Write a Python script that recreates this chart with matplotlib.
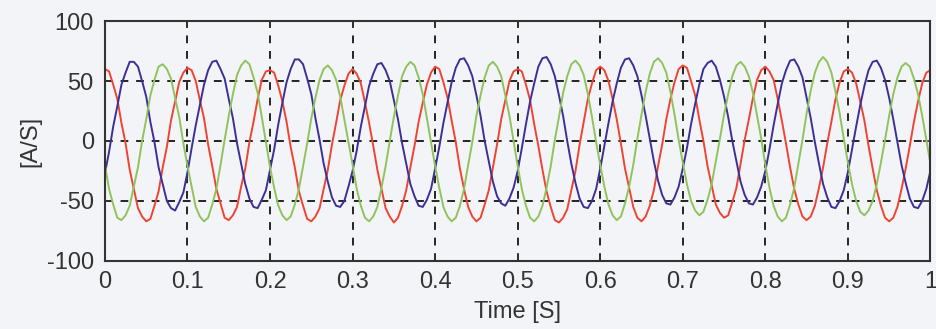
import numpy as np
import matplotlib
matplotlib.use("Agg")
import matplotlib.pyplot as plt

# sample times, 5 ms step over 1 s
time = np.linspace(0, 1, 201)

# phase a (red), one row per 0.1 s cycle
phase_a = [
    60, 58, 47, 35, 15, -2, -24, -40, -56, -63, -67, -65, -54, -42, -22, -5, 17, 33, 49, 57,
    61, 59, 50, 34, 19, -3, -21, -40, -52, -64, -66, -62, -55, -38, -23, -1, 16, 35, 51, 58,
    59, 57, 46, 33, 16, -5, -22, -42, -54, -65, -67, -63, -56, -40, -24, -3, 15, 34, 46, 56,
    60, 56, 48, 32, 15, -4, -24, -40, -56, -63, -68, -64, -54, -41, -22, -4, 16, 32, 47, 57,
    62, 60, 49, 36, 17, -1, -23, -40, -55, -63, -67, -64, -53, -41, -22, -3, 18, 34, 50, 58,
    60, 58, 47, 34, 14, -4, -24, -42, -55, -66, -68, -64, -57, -41, -25, -3, 16, 35, 48, 59,
    62, 59, 50, 35, 18, -2, -23, -39, -55, -64, -67, -63, -54, -41, -21, -3, 18, 35, 49, 60,
    63, 61, 50, 38, 18, 0, -21, -37, -53, -60, -64, -62, -51, -39, -19, 1, 18, 36, 51, 59,
    62, 58, 51, 35, 17, -2, -22, -40, -53, -63, -66, -63, -54, -39, -22, -2, 16, 35, 49, 58,
    60, 57, 48, 33, 17, -4, -23, -41, -54, -64, -67, -64, -55, -40, -23, -4, 16, 33, 48, 57,
    59,
]

# phase b (blue)
phase_b = [
    -27, -9, 12, 29, 47, 57, 66, 66, 62, 50, 37, 16, -1, -22, -36, -50, -56, -58, -51, -43,
    -26, -6, 13, 30, 47, 59, 66, 67, 60, 52, 35, 19, -2, -19, -36, -48, -55, -56, -49, -41,
    -24, -7, 14, 32, 49, 60, 68, 68, 64, 52, 39, 19, 1, -19, -34, -47, -54, -55, -50, -38,
    -25, -8, 12, 29, 46, 56, 64, 65, 59, 50, 34, 18, -2, -19, -36, -46, -54, -55, -49, -40,
    -23, -5, 15, 32, 49, 61, 68, 69, 63, 54, 38, 21, 0, -17, -34, -46, -52, -54, -48, -39,
    -25, -6, 14, 33, 48, 62, 69, 70, 64, 54, 38, 21, 0, -19, -35, -48, -55, -56, -50, -40,
    -23, -4, 15, 33, 48, 61, 68, 69, 63, 54, 38, 21, 2, -17, -33, -45, -52, -53, -47, -38,
    -23, -6, 14, 31, 47, 60, 65, 67, 62, 51, 37, 20, 0, -17, -34, -45, -52, -53, -47, -38,
    -25, -7, 13, 31, 48, 59, 67, 68, 62, 53, 36, 19, -1, -19, -36, -47, -55, -56, -50, -41,
    -26, -7, 12, 30, 46, 59, 66, 67, 61, 51, 36, 18, -1, -20, -35, -48, -55, -56, -50, -40,
    -25,
]

# phase c (green)
phase_c = [
    -20, -40, -53, -64, -66, -62, -54, -38, -22, 0, 18, 38, 51, 62, 64, 60, 52, 36, 20, -2,
    -21, -38, -55, -63, -67, -64, -53, -40, -20, 1, 21, 39, 55, 63, 67, 64, 53, 40, 20, -1,
    -22, -39, -54, -62, -66, -63, -53, -40, -21, -2, 19, 36, 51, 60, 63, 59, 51, 37, 18, -1,
    -20, -40, -54, -64, -67, -63, -55, -39, -21, 0, 20, 38, 54, 62, 66, 63, 53, 39, 19, -1,
    -21, -39, -55, -63, -67, -64, -54, -40, -20, -1, 21, 38, 53, 63, 66, 62, 54, 38, 21, 0,
    -21, -40, -54, -64, -67, -63, -54, -39, -21, 1, 20, 40, 54, 64, 67, 63, 55, 39, 20, -1,
    -20, -38, -53, -62, -66, -63, -52, -38, -20, 2, 22, 41, 56, 66, 69, 65, 57, 41, 22, 1,
    -18, -36, -50, -58, -62, -59, -49, -36, -17, 2, 22, 39, 54, 63, 66, 62, 54, 40, 21, 2,
    -20, -39, -54, -63, -67, -64, -53, -39, -19, 1, 23, 42, 57, 66, 70, 66, 57, 41, 23, 2,
    -18, -36, -50, -59, -62, -58, -50, -36, -18, 1, 21, 39, 53, 62, 65, 62, 52, 39, 21, 1,
    -19,
]

x_ticks = [0, 0.1, 0.2, 0.3, 0.4, 0.5, 0.6, 0.7, 0.8, 0.9, 1]
x_labels = ['0', '0.1', '0.2', '0.3', '0.4', '0.5', '0.6', '0.7', '0.8', '0.9', '1']
y_ticks = [-100, -50, 0, 50, 100]

bg = '#f3f4f7'
ink = '#333333'
plt.rcParams['font.family'] = ['Liberation Sans', 'DejaVu Sans']
plt.rcParams['axes.unicode_minus'] = False

fig = plt.figure(figsize=(9.37, 3.29), dpi=100, facecolor=bg)
ax = fig.add_axes([0.112, 0.207, 0.881, 0.729], facecolor=bg)

ax.plot(time, phase_a, color='#ee4433', lw=1.4)
ax.plot(time, phase_b, color='#3b3096', lw=1.4)
ax.plot(time, phase_c, color='#8fc35c', lw=1.4)

ax.set_xlim(0, 1)
ax.set_ylim(-100, 100)
ax.set_xticks(x_ticks)
ax.set_xticklabels(x_labels)
ax.set_yticks(y_ticks)
ax.grid(True, color='black', linestyle=(0, (4, 4)), linewidth=1.4, alpha=0.85)

ax.tick_params(direction='in', length=5, width=1.2, colors=ink, labelsize=17,
               top=True, right=True)
ax.tick_params(axis='x', pad=7)
ax.tick_params(axis='y', pad=8)
for sp in ax.spines.values():
    sp.set_color(ink)
    sp.set_linewidth(1.5)

ax.set_xlabel('Time [S]', fontsize=17, color=ink, labelpad=6)
ax.set_ylabel('[A/S]', fontsize=17, color=ink, labelpad=4)

fig.savefig('out.png', dpi=100, facecolor=bg)
